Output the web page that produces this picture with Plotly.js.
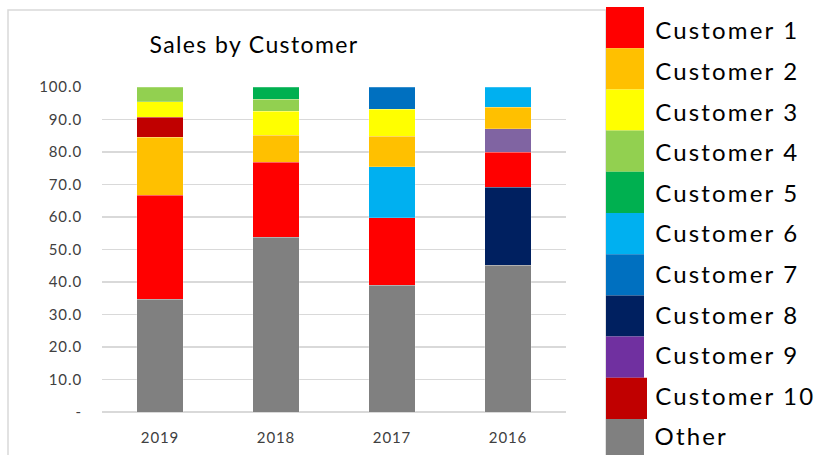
<!DOCTYPE html>
<html>
<head>
<meta charset="utf-8">
<script src="https://cdn.plot.ly/plotly-3.0.1.min.js"></script>
<style>
  html, body { margin: 0; padding: 0; background: #ffffff; }
  #chart { width: 820px; height: 455px; }
  #chart .annotation-text { letter-spacing: 0.09em; }
  #chart .gtitle { letter-spacing: 0.06em; }
  #chart .xtick text, #chart .ytick text { letter-spacing: 0.06em; }
</style>
</head>
<body>
<div id="chart"></div>
<script>
// ---- data ----
const years = ['2019', '2018', '2017', '2016'];
const otherValues = [34.7, 53.8, 39.0, 45.1];
const rank1Customers = ['Customer 1', 'Customer 1', 'Customer 1', 'Customer 8'];
const rank1Values = [32.0, 23.0, 20.7, 24.1];
const rank2Customers = ['Customer 2', 'Customer 2', 'Customer 6', 'Customer 1'];
const rank2Values = [17.8, 8.3, 15.7, 10.8];
const rank3Customers = ['Customer 10', 'Customer 3', 'Customer 2', 'Customer 9'];
const rank3Values = [6.2, 7.5, 9.5, 7.1];
const rank4Customers = ['Customer 3', 'Customer 4', 'Customer 3', 'Customer 2'];
const rank4Values = [4.7, 3.6, 8.2, 6.6];
const rank5Customers = ['Customer 4', 'Customer 5', 'Customer 7', 'Customer 6'];
const rank5Values = [4.6, 3.8, 6.9, 6.3];
const legendNames = ['Customer 1', 'Customer 2', 'Customer 3', 'Customer 4', 'Customer 5',
  'Customer 6', 'Customer 7', 'Customer 8', 'Customer 9', 'Customer 10', 'Other'];
const yTickValues = [0, 10, 20, 30, 40, 50, 60, 70, 80, 90, 100];
const yTickLabels = ['-', '10.0', '20.0', '30.0', '40.0', '50.0', '60.0', '70.0', '80.0', '90.0', '100.0'];
const chartTitle = 'Sales by Customer';

// ---- styles ----
const legendColors = {
  'Customer 1': '#FF0000', 'Customer 2': '#FFC000', 'Customer 3': '#FFFF00',
  'Customer 4': '#92D050', 'Customer 5': '#00B050', 'Customer 6': '#00B0F0',
  'Customer 7': '#0070C0', 'Customer 8': '#002060', 'Customer 9': '#7030A0',
  'Customer 10': '#C00000', 'Other': '#808080'
};
const barColors = Object.assign({}, legendColors, { 'Customer 9': '#8064A2' });
const FONT = 'Lato, "Open Sans", "Noto Sans", sans-serif';
const LEG_SIZE = 24, LEG_SPACING = 0.09;

// plot area in pixels
const W = 820, H = 455;
const L = 102, R = 566, T = 87, B = 412;
const px = x => (x - L) / (R - L);
const py = y => (B - y) / (B - T);

function layer(name, values, customers) {
  return {
    type: 'bar', name: name, x: years, y: values,
    marker: {
      color: customers.map(c => barColors[c]),
      line: { width: 0.6, color: 'rgba(255,255,255,0.35)' }
    },
    showlegend: false, hoverinfo: 'skip'
  };
}

const traces = [
  layer('Other', otherValues, years.map(() => 'Other')),
  layer('Rank 1', rank1Values, rank1Customers),
  layer('Rank 2', rank2Values, rank2Customers),
  layer('Rank 3', rank3Values, rank3Customers),
  layer('Rank 4', rank4Values, rank4Customers),
  layer('Rank 5', rank5Values, rank5Customers)
];

// chart border + legend
const shapes = [{
  type: 'rect', xref: 'paper', yref: 'paper',
  x0: px(8), x1: px(606), y0: py(470), y1: py(10),
  line: { color: '#d9d9d9', width: 1.5 }, fillcolor: 'rgba(0,0,0,0)', layer: 'below'
}];
const annotations = [];
const swTop = 7, swH = 41.2;
const txtTop = 29.8, txtStep = 40.6;
legendNames.forEach((n, i) => {
  const y0 = swTop + i * swH, y1 = y0 + swH;
  const right = n === 'Customer 10' ? 647 : 644;
  shapes.push({
    type: 'rect', xref: 'paper', yref: 'paper',
    x0: px(606), x1: px(right), y0: py(y1), y1: py(y0),
    fillcolor: legendColors[n], line: { width: 0 }, layer: 'above'
  });
  // compensate for css letter-spacing not included in plotly's text measurement
  const shift = n.length * LEG_SPACING * LEG_SIZE / 2;
  annotations.push({
    xref: 'paper', yref: 'paper', x: px(653 + shift), y: py(txtTop + i * txtStep),
    xanchor: 'left', yanchor: 'middle', showarrow: false, text: n,
    font: { family: FONT, size: LEG_SIZE, color: '#000000' }
  });
});

const layout = {
  width: W, height: H,
  margin: { l: L, r: W - R, t: T, b: H - B, pad: 0 },
  paper_bgcolor: '#ffffff', plot_bgcolor: '#ffffff',
  barmode: 'stack', bargap: 0.6,
  title: {
    text: chartTitle, x: 254 / W, xanchor: 'center', y: 1 - 45 / H, yanchor: 'middle',
    xref: 'container', yref: 'container',
    font: { family: FONT, size: 23, color: '#000000' }
  },
  xaxis: {
    type: 'category', showgrid: false, zeroline: false, showline: false,
    ticks: 'outside', ticklen: 12, tickcolor: 'rgba(0,0,0,0)',
    tickfont: { family: FONT, size: 15, color: '#404040' }
  },
  yaxis: {
    range: [0, 100], tickmode: 'array', tickvals: yTickValues, ticktext: yTickLabels,
    showgrid: true, gridcolor: '#d9d9d9', gridwidth: 1.4,
    zeroline: true, zerolinecolor: '#d9d9d9', zerolinewidth: 1.6,
    showline: false, ticks: 'outside', ticklen: 16, tickcolor: 'rgba(0,0,0,0)',
    tickfont: { family: FONT, size: 15, color: '#404040' }
  },
  shapes: shapes,
  annotations: annotations,
  showlegend: false
};

Plotly.newPlot('chart', traces, layout, { staticPlot: true, displayModeBar: false });
</script>
</body>
</html>
